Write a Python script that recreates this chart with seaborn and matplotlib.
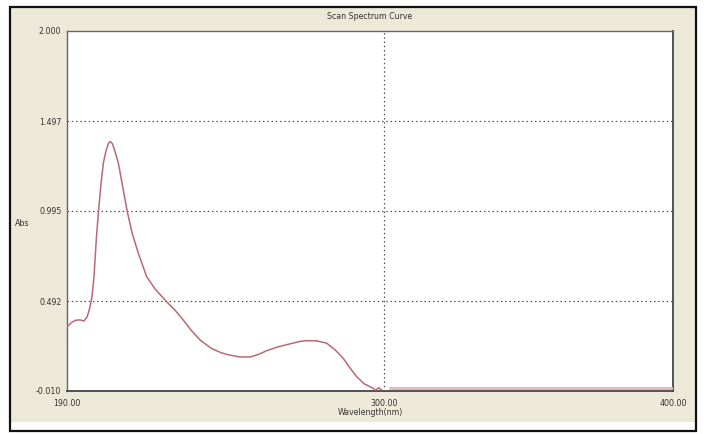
import matplotlib
matplotlib.use("Agg")
import matplotlib.pyplot as plt
from matplotlib.patches import Rectangle
import seaborn as sns
import pandas as pd

# Absorbance scan, 190-300 nm region
wavelength = [190.0, 191.5, 193.0, 194.5, 195.9, 197.0, 198.0, 198.7, 199.4, 200.2,
              200.9, 201.8, 202.6, 203.5, 204.3, 204.9, 205.7, 206.6, 207.8, 209.3,
              210.9, 212.6, 214.7, 217.6, 220.5, 224.5, 227.5, 230.3, 233.0, 236.1,
              240.0, 243.5, 246.5, 250.0, 253.4, 256.5, 259.2, 263.0, 267.0, 270.5,
              273.1, 276.5, 280.0, 283.0, 285.7, 288.0, 290.4, 293.0, 296.1, 297.0,
              298.0, 299.0]
absorbance = [0.347, 0.372, 0.385, 0.387, 0.381, 0.405, 0.460, 0.520, 0.640, 0.850,
              0.990, 1.150, 1.263, 1.330, 1.370, 1.383, 1.372, 1.330, 1.262, 1.130,
              0.990, 0.870, 0.760, 0.628, 0.560, 0.489, 0.440, 0.386, 0.330, 0.275,
              0.228, 0.203, 0.190, 0.180, 0.180, 0.195, 0.215, 0.236, 0.252, 0.266,
              0.271, 0.270, 0.257, 0.218, 0.173, 0.120, 0.070, 0.030, 0.005, -0.006,
              0.008, -0.004]

# Flat baseline past 300 nm
baseline_wavelength = [302.0, 350.0, 400.0]
baseline_absorbance = [0.006, 0.006, 0.006]

y_ticks = [-0.010, 0.492, 0.995, 1.497, 2.000]
y_tick_labels = ["-0.010", "0.492", "0.995", "1.497", "2.000"]
x_ticks = [190, 300, 400]
x_tick_labels = ["190.00", "300.00", "400.00"]

sns.set_style("white")
plt.rcParams["font.family"] = ["DejaVu Sans"]

W, H = 704, 434
fig = plt.figure(figsize=(W / 100, H / 100), dpi=100)
fig.patch.set_facecolor("white")

# window panel and frame
fig.patches.append(Rectangle((10 / W, 1 - 422 / H), 686 / W, 414 / H,
                             transform=fig.transFigure, facecolor="#ece9d8",
                             edgecolor="none", zorder=-2))
fig.patches.append(Rectangle((10 / W, 1 - 431 / H), 686 / W, 424 / H,
                             transform=fig.transFigure, facecolor="none",
                             edgecolor="#111111", linewidth=1.6, zorder=-1))

left, right, top, bottom = 67, 673, 31, 391
ax = fig.add_axes([left / W, 1 - bottom / H, (right - left) / W, (bottom - top) / H])
ax.set_zorder(1)
ax.set_facecolor("white")

df = pd.DataFrame({"wl": wavelength, "abs": absorbance})
bl = pd.DataFrame({"wl": baseline_wavelength, "abs": baseline_absorbance})
sns.lineplot(data=bl, x="wl", y="abs", ax=ax, color="#e2b9be", linewidth=2.2,
             estimator=None, sort=False, zorder=3)
sns.lineplot(data=df, x="wl", y="abs", ax=ax, color="#b86a72", linewidth=1.1,
             estimator=None, sort=False, zorder=4)

ax.set_xlim(190, 400)
ax.set_ylim(-0.010, 2.000)

grid_kw = dict(color="#555555", linewidth=0.9, linestyle=(0, (1.2, 2.2)), zorder=2)
for yv in y_ticks[1:-1]:
    ax.axhline(yv, **grid_kw)
ax.axvline(300, **grid_kw)

ax.set_xticks(x_ticks)
ax.set_xticklabels(x_tick_labels)
ax.set_yticks(y_ticks)
ax.set_yticklabels(y_tick_labels)
ax.tick_params(axis="both", length=0, labelsize=5.7, colors="#333333")
ax.tick_params(axis="x", pad=6)
ax.tick_params(axis="y", pad=4)

ax.set_xlabel("Wavelength(nm)", fontsize=5.7, color="#333333", labelpad=0)
ax.set_ylabel("")
fig.text(22 / W, 1 - 224 / H, "Abs", fontsize=5.7, color="#333333",
         ha="center", va="center")
ax.set_title("Scan Spectrum Curve", fontsize=5.7, color="#333333", pad=9)

for side in ["left", "top"]:
    ax.spines[side].set_color("#666666")
    ax.spines[side].set_linewidth(1.0)
for side in ["right", "bottom"]:
    ax.spines[side].set_color("#444444")
    ax.spines[side].set_linewidth(1.3)

fig.savefig("out.png", dpi=100, facecolor=fig.get_facecolor())
